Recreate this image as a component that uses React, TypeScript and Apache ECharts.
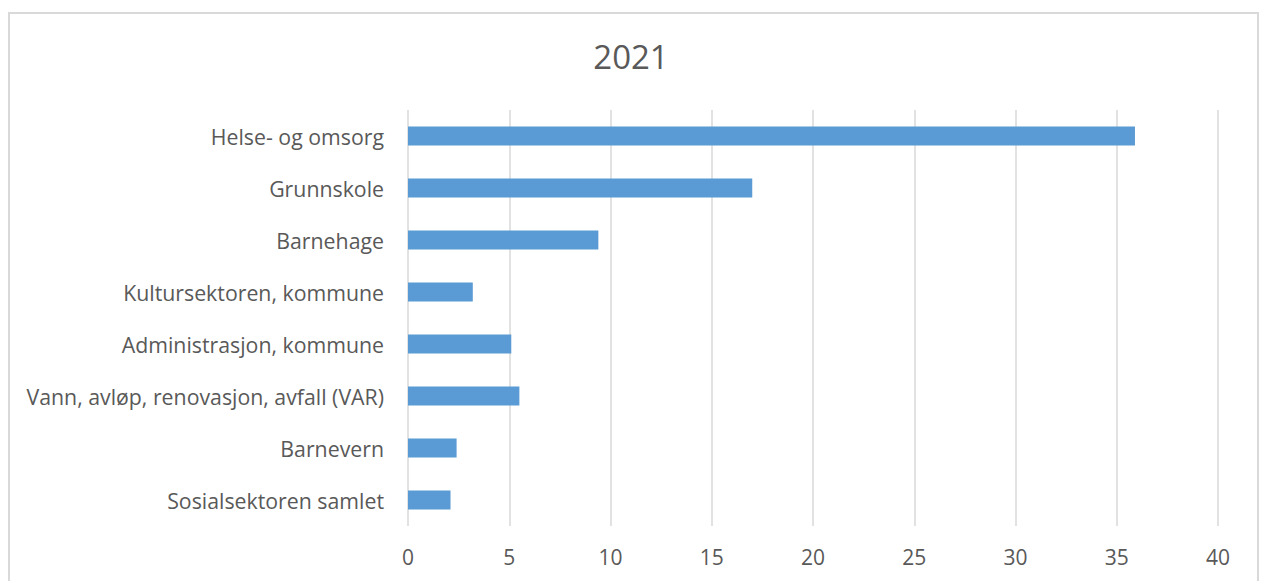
import React, { useEffect, useRef } from "react";
import * as echarts from "echarts";

const title = "2021";
const categories = [
  "Helse- og omsorg",
  "Grunnskole",
  "Barnehage",
  "Kultursektoren, kommune",
  "Administrasjon, kommune",
  "Vann, avløp, renovasjon, avfall (VAR)",
  "Barnevern",
  "Sosialsektoren samlet",
];
const values = [35.9, 17.0, 9.4, 3.2, 5.1, 5.5, 2.4, 2.1];
const xMin = 0;
const xMax = 40;
const xInterval = 5;

const FONT = "'Open Sans', sans-serif";
const TEXT = "#595959";

export default function App() {
  const ref = useRef<HTMLDivElement>(null);
  useEffect(() => {
    if (!ref.current) return;
    const chart = echarts.init(ref.current, undefined, { renderer: "svg" });
    chart.setOption({
      animation: false,
      backgroundColor: "#ffffff",
      title: {
        text: title,
        left: "center",
        top: 35,
        textStyle: { fontFamily: FONT, fontSize: 33, fontWeight: "normal", color: TEXT },
      },
      graphic: [
        {
          type: "rect",
          shape: { x: 9, y: 13, width: 1249, height: 620 },
          style: { fill: "none", stroke: "#d9d9d9", lineWidth: 2 },
          silent: true,
        },
      ],
      grid: { left: 408, right: 44, top: 110, bottom: 55, containLabel: false },
      xAxis: {
        type: "value",
        min: xMin,
        max: xMax,
        interval: xInterval,
        axisLine: { show: false },
        axisTick: { show: false },
        splitLine: { show: true, lineStyle: { color: "#d9d9d9", width: 1.5 } },
        axisLabel: { fontFamily: FONT, fontSize: 21, color: TEXT, margin: 20 },
      },
      yAxis: {
        type: "category",
        data: categories,
        inverse: true,
        axisLine: { show: false },
        axisTick: { show: false },
        axisLabel: { fontFamily: FONT, fontSize: 21.3, color: TEXT, margin: 24 },
      },
      series: [
        {
          type: "bar",
          data: values,
          barWidth: 19,
          itemStyle: { color: "#5b9bd5" },
        },
      ],
    });
    return () => chart.dispose();
  }, []);
  return (
    <div
      ref={ref}
      style={{ position: "fixed", left: 0, top: 0, width: 1262, height: 581 }}
    />
  );
}
